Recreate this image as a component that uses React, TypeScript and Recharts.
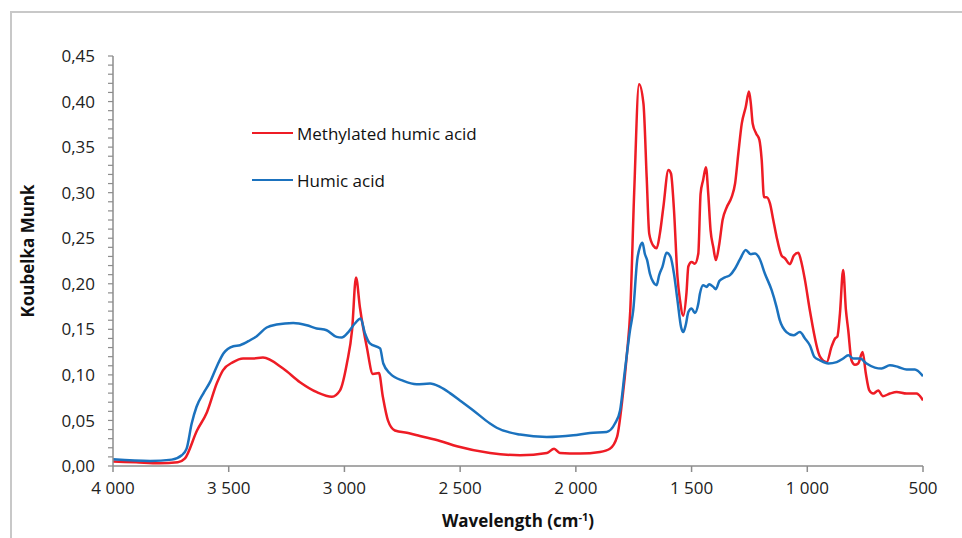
import React from "react";
import { LineChart, Line, XAxis, YAxis } from "recharts";

const methylatedWave = [4000,3900,3800,3720,3690,3637,3594,3551,3525,3481,3438,3395,3352,3265,3192,3119,3054,3019,2989,2967,2950,2933,2903,2877,2851,2834,2812,2782,2720,2674,2587,2514,2371,2241,2125,2094,2069,1982,1896,1853,1822,1801,1779,1765,1748,1727,1708,1694,1683,1666,1651,1637,1622,1600,1589,1576,1561,1550,1536,1522,1514,1500,1486,1471,1461,1450,1438,1428,1418,1406,1395,1380,1366,1348,1327,1312,1298,1283,1266,1252,1244,1236,1221,1207,1197,1187,1176,1161,1147,1133,1111,1097,1075,1058,1039,1024,1010,989,945,916,895,880,870,859,845,833,823,809,794,780,761,747,732,715,693,674,643,614,571,528,500];
const methylatedKM = [0.005,0.004,0.003,0.004,0.008,0.039,0.059,0.091,0.105,0.114,0.118,0.118,0.119,0.107,0.092,0.081,0.076,0.083,0.113,0.149,0.207,0.174,0.130,0.101,0.102,0.076,0.050,0.039,0.036,0.033,0.0275,0.0216,0.0143,0.0118,0.0143,0.019,0.0143,0.0136,0.0154,0.019,0.032,0.069,0.124,0.17,0.30,0.419,0.398,0.317,0.255,0.242,0.239,0.255,0.284,0.325,0.321,0.281,0.208,0.182,0.165,0.19,0.219,0.224,0.222,0.233,0.299,0.314,0.328,0.299,0.259,0.240,0.226,0.244,0.270,0.284,0.295,0.310,0.343,0.376,0.394,0.411,0.398,0.376,0.365,0.358,0.336,0.295,0.295,0.288,0.270,0.252,0.231,0.228,0.2215,0.231,0.234,0.222,0.204,0.171,0.12,0.114,0.131,0.14,0.142,0.167,0.215,0.171,0.149,0.116,0.111,0.1125,0.125,0.1015,0.083,0.0795,0.083,0.0766,0.0795,0.0813,0.0795,0.0795,0.072];

const humicWave = [4000,3840,3746,3703,3682,3660,3639,3610,3581,3552,3523,3480,3451,3408,3379,3336,3293,3221,3163,3120,3077,3034,3012,2983,2955,2930,2911,2890,2846,2832,2803,2745,2688,2630,2587,2544,2501,2443,2371,2342,2241,2126,2011,1939,1867,1831,1809,1788,1766,1752,1735,1723,1712,1702,1692,1680,1666,1651,1640,1626,1608,1591,1576,1561,1545,1536,1525,1514,1500,1486,1471,1464,1450,1435,1424,1406,1395,1380,1356,1334,1312,1291,1266,1244,1226,1207,1183,1154,1133,1119,1090,1060,1032,1010,988,970,945,909,873,845,823,801,772,744,708,679,643,607,571,535,500];
const humicKM = [0.0074,0.0055,0.007,0.0118,0.019,0.0466,0.065,0.0795,0.092,0.109,0.1235,0.1315,0.1326,0.138,0.1425,0.152,0.1553,0.157,0.1545,0.151,0.149,0.1417,0.141,0.147,0.1564,0.162,0.1454,0.1345,0.129,0.1125,0.1015,0.0934,0.0897,0.0905,0.0868,0.080,0.072,0.061,0.0466,0.042,0.0345,0.0318,0.0337,0.0363,0.0374,0.0466,0.061,0.105,0.149,0.171,0.226,0.2405,0.245,0.233,0.226,0.211,0.202,0.1985,0.2095,0.2186,0.234,0.2296,0.211,0.182,0.152,0.147,0.155,0.169,0.173,0.168,0.178,0.189,0.1985,0.1966,0.1996,0.1966,0.194,0.203,0.207,0.2095,0.2168,0.2267,0.237,0.2325,0.2333,0.228,0.211,0.193,0.1747,0.16,0.147,0.1435,0.147,0.140,0.132,0.12,0.116,0.1125,0.114,0.118,0.1216,0.118,0.118,0.1125,0.108,0.107,0.1106,0.1087,0.106,0.106,0.0985];

const xTicks = [4000, 3500, 3000, 2500, 2000, 1500, 1000, 500];
const yTicks = [0,0.01,0.02,0.03,0.04,0.05,0.06,0.07,0.08,0.09,0.10,0.11,0.12,0.13,0.14,0.15,0.16,0.17,0.18,0.19,0.20,0.21,0.22,0.23,0.24,0.25,0.26,0.27,0.28,0.29,0.30,0.31,0.32,0.33,0.34,0.35,0.36,0.37,0.38,0.39,0.40,0.41,0.42,0.43,0.44,0.45];

const seriesNames = ["Methylated humic acid", "Humic acid"];
const RED = "#EE1C25";
const BLUE = "#1B72BE";
const FONT = "'Open Sans', sans-serif";
const AXIS = "#8C8C8C";

const methylated = methylatedWave.map((w, i) => ({ w, v: methylatedKM[i] }));
const humic = humicWave.map((w, i) => ({ w, v: humicKM[i] }));

const fmtX = (v: number) => v >= 1000 ? `${Math.floor(v / 1000)} ${String(v % 1000).padStart(3, "0")}` : String(v);

const YTick = (props: any) => {
  const { x, y, payload } = props;
  const v = payload.value;
  const major = Math.abs(v * 20 - Math.round(v * 20)) < 1e-6;
  return (
    <g>
      <line x1={x + 13} x2={x + 18} y1={y} y2={y} stroke={AXIS} strokeWidth={1.2} />
      {major ? (
        <text x={x} y={y} dy="0.36em" textAnchor="end" fontFamily={FONT} fontSize={17} fill="#222">
          {v.toFixed(2).replace(".", ",")}
        </text>
      ) : null}
    </g>
  );
};

export default function App() {
  return (
    <div style={{ position: "absolute", left: 0, top: 0, width: 962, height: 538, overflow: "hidden", background: "#fff" }}>
      <div style={{ position: "absolute", left: 10, top: 11, width: 1000, height: 600, border: "2px solid #C8C8C8" }} />
      <LineChart width={962} height={538} margin={{ top: 56, right: 39, bottom: 0, left: 0 }} style={{ position: "absolute", left: 0, top: 0 }}>
        <XAxis
          type="number"
          dataKey="w"
          domain={[500, 4000]}
          reversed
          ticks={xTicks}
          tickFormatter={fmtX}
          height={72}
          interval={0}
          stroke={AXIS}
          strokeWidth={1.5}
          tickSize={6}
          tickMargin={10}
          tick={{ fill: "#222", fontFamily: FONT, fontSize: 17 }}
          allowDataOverflow
          label={{
            content: () => (
              <text x={518} y={527} textAnchor="middle" fontFamily={FONT} fontSize={17} fontWeight="bold" fill="#111">
                Wavelength (cm<tspan dy={-6} fontSize={11}>-1</tspan><tspan dy={6}>)</tspan>
              </text>
            ),
          }}
        />
        <YAxis
          type="number"
          dataKey="v"
          domain={[0, 0.45]}
          ticks={yTicks}
          interval={0}
          width={113}
          stroke={AXIS}
          strokeWidth={1.5}
          tickSize={5}
          tickMargin={13}
          tick={YTick}
          tickLine={false}
          allowDataOverflow
          label={{
            content: () => (
              <text x={27} y={251} transform="rotate(-90 27 251)" textAnchor="middle" dominantBaseline="central" fontFamily={FONT} fontSize={17} fontWeight="bold" fill="#111">
                Koubelka Munk
              </text>
            ),
          }}
        />
        <Line data={methylated} dataKey="v" name={seriesNames[0]} type="monotone" stroke={RED} strokeWidth={2.5} dot={false} isAnimationActive={false} />
        <Line data={humic} dataKey="v" name={seriesNames[1]} type="monotone" stroke={BLUE} strokeWidth={2.5} dot={false} isAnimationActive={false} />
      </LineChart>
      <div style={{ position: "absolute", left: 252, top: 121, fontFamily: FONT, fontSize: 17, color: "#111" }}>
        {seriesNames.map((n, i) => (
          <div key={n} style={{ display: "flex", alignItems: "center", height: 24, marginBottom: i === 0 ? 23 : 0 }}>
            <div style={{ width: 41, height: 2.5, background: i === 0 ? RED : BLUE, marginRight: 4 }} />
            <span style={{ whiteSpace: "nowrap" }}>{n}</span>
          </div>
        ))}
      </div>
    </div>
  );
}
